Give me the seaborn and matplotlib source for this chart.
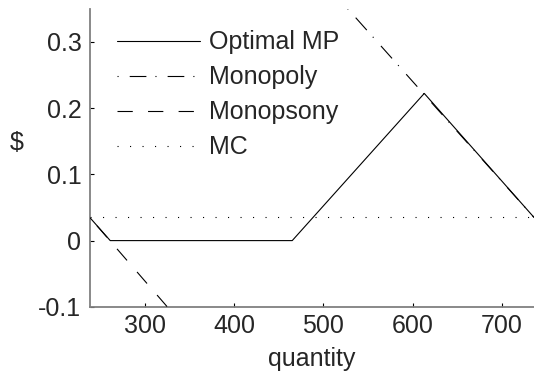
import matplotlib
matplotlib.use("Agg")
import matplotlib.pyplot as plt
import seaborn as sns

# curve vertices
optimal_q = [238, 261, 465, 613, 736]
optimal_p = [0.035, 0.0, 0.0, 0.222, 0.035]
monopoly_q = [527, 736]
monopoly_p = [0.35, 0.035]
monopsony_q = [238, 325]
monopsony_p = [0.035, -0.1]
mc_q = [238, 736]
mc_p = [0.035, 0.035]

sns.set_style("ticks")
plt.rcParams["font.family"] = ["Liberation Sans", "DejaVu Sans"]
plt.rcParams["lines.scale_dashes"] = False

fig = plt.figure(figsize=(5.34, 3.72), dpi=100)
ax = fig.add_axes([0.168, 0.175, 0.832, 0.802])

lw = 0.8
fs = 18
sns.lineplot(x=optimal_q, y=optimal_p, ax=ax, color="black", lw=lw, label="Optimal MP", zorder=4)
sns.lineplot(x=monopoly_q, y=monopoly_p, ax=ax, color="black", lw=lw, label="Monopoly", zorder=3)
ax.lines[-1].set_dashes([0.8, 8, 12, 6.5])
sns.lineplot(x=monopsony_q, y=monopsony_p, ax=ax, color="black", lw=lw, label="Monopsony", zorder=3)
ax.lines[-1].set_linestyle((14, (11, 11)))
sns.lineplot(x=mc_q, y=mc_p, ax=ax, color="black", lw=lw, label="MC", zorder=2)
ax.lines[-1].set_dashes([0.8, 8.2])

ax.set_xlim(238, 736)
ax.set_ylim(-0.1, 0.35)
ax.set_xticks([300, 400, 500, 600, 700])
ax.set_yticks([-0.1, 0, 0.1, 0.2, 0.3])
ax.set_yticklabels(["-0.1", "0", "0.1", "0.2", "0.3"])
ax.set_xlabel("quantity", fontsize=fs, labelpad=6.5)
ax.set_ylabel(r"\$", fontsize=fs, rotation=0, ha="center", va="center")
ax.yaxis.set_label_coords(-0.164, 0.55)

for side in ["top", "right"]:
    ax.spines[side].set_visible(False)
for side in ["left", "bottom"]:
    ax.spines[side].set_color("#808080")
    ax.spines[side].set_linewidth(1.3)
ax.tick_params(direction="in", length=3, width=0.8, color="black", labelsize=fs, pad=6)
ax.tick_params(axis="x", pad=5)

leg = ax.legend(loc="upper left", bbox_to_anchor=(0.04, 0.96), frameon=False, fontsize=fs,
                handlelength=3.3, handletextpad=0.35, labelspacing=0.44, borderaxespad=0)
leg.get_lines()[2].set_linestyle((0, (11, 11)))

fig.savefig("out.png", dpi=100)
